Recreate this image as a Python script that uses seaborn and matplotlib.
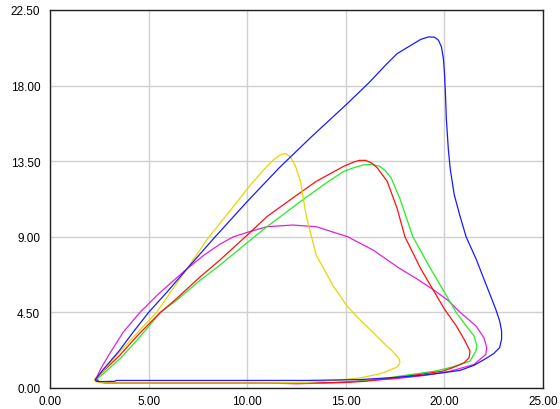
import numpy as np
import pandas as pd
import matplotlib
matplotlib.use("Agg")
import matplotlib.pyplot as plt
import seaborn as sns

# loops traced from bottom-left, up the diagonal, over the peak, back along the bottom
blue_x = [2.30, 2.7, 3.5, 4.2, 5.0, 6.0, 6.95, 8.3, 10.0, 11.66, 13.3, 15.05, 16.2, 17.0, 17.6, 18.3,
          18.8, 19.2, 19.5, 19.7, 19.85, 19.95, 20.0, 20.05, 20.1, 20.2, 20.3, 20.5, 20.8, 21.1,
          21.6, 22.1, 22.6, 22.8, 22.9, 22.9, 22.8, 22.5, 22.1, 21.5, 20.8, 19.9, 18.8, 17.4, 15.7,
          13.0, 10.0, 6.5, 3.35, 3.3, 2.6, 2.35, 2.30]
blue_y = [0.50, 1.1, 2.2, 3.3, 4.5, 5.8, 7.1, 8.9, 11.1, 13.15, 15.0, 16.9, 18.2, 19.2, 19.9, 20.4,
          20.75, 20.9, 20.88, 20.7, 20.3, 19.6, 18.8, 17.6, 16.0, 14.2, 13.0, 11.5, 10.2, 9.0,
          7.7, 6.2, 4.7, 4.0, 3.4, 2.9, 2.4, 2.05, 1.75, 1.35, 1.05, 0.9, 0.75, 0.62, 0.5,
          0.45, 0.45, 0.45, 0.45, 0.4, 0.38, 0.4, 0.5]

red_x = [2.30, 2.7, 3.5, 4.5, 5.6, 6.4, 7.6, 8.6, 10.0, 11.0, 12.3, 13.5, 14.9, 15.4, 15.7, 16.0,
         16.3, 16.6, 17.1, 17.6, 18.0, 18.8, 19.5, 20.0, 20.6, 21.0, 21.3, 21.25, 21.0, 20.4, 19.9,
         19.0, 17.5, 16.0, 15.0, 13.0, 10.0, 6.0, 3.0, 2.5, 2.30]
red_y = [0.55, 1.0, 1.9, 3.2, 4.5, 5.3, 6.6, 7.6, 9.1, 10.2, 11.3, 12.3, 13.2, 13.45, 13.55, 13.55,
         13.4, 13.1, 12.3, 10.7, 9.0, 7.1, 5.7, 4.7, 3.7, 2.9, 2.2, 1.8, 1.5, 1.2, 1.0,
         0.85, 0.6, 0.4, 0.33, 0.3, 0.3, 0.3, 0.3, 0.35, 0.55]

green_x = [2.35, 2.8, 3.6, 4.6, 5.6, 6.4, 7.6, 8.6, 10.0, 11.0, 12.7, 14.0, 14.9, 15.5, 15.9, 16.3,
           16.7, 17.0, 17.3, 17.75, 18.4, 19.3, 20.1, 20.6, 21.1, 21.5, 21.65, 21.6, 21.3, 20.4,
           19.5, 18.0, 16.5, 15.0, 13.0, 10.0, 6.0, 3.0, 2.5, 2.35]
green_y = [0.5, 0.95, 1.8, 3.1, 4.5, 5.2, 6.4, 7.3, 8.65, 9.6, 11.1, 12.2, 12.9, 13.15, 13.28, 13.32,
           13.2, 12.95, 12.5, 11.25, 9.0, 7.1, 5.5, 4.5, 3.7, 3.1, 2.5, 2.2, 1.6, 1.25,
           1.0, 0.75, 0.5, 0.33, 0.28, 0.28, 0.28, 0.28, 0.33, 0.5]

magenta_x = [2.35, 2.6, 3.0, 3.7, 4.56, 5.5, 6.95, 7.8, 8.6, 9.3, 10.1, 11.0, 12.3, 13.5, 15.1, 16.4,
             17.75, 18.6, 19.5, 20.2, 20.8, 21.6, 22.0, 22.15, 22.1, 21.5, 20.3, 19.0, 17.5, 15.5,
             14.0, 12.5, 11.0, 8.0, 5.0, 3.0, 2.5, 2.35]
magenta_y = [0.6, 1.2, 2.0, 3.3, 4.5, 5.6, 7.1, 7.9, 8.55, 9.0, 9.3, 9.6, 9.7, 9.6, 9.0, 8.2,
             7.1, 6.5, 5.8, 5.2, 4.5, 3.7, 3.0, 2.4, 2.0, 1.4, 1.0, 0.75, 0.55, 0.4,
             0.3, 0.25, 0.3, 0.3, 0.3, 0.3, 0.35, 0.6]

yellow_x = [2.25, 2.6, 3.2, 4.2, 5.4, 6.95, 8.0, 9.3, 10.1, 11.0, 11.4, 11.7, 11.95, 12.2, 12.45,
            12.7, 13.0, 13.5, 14.0, 14.35, 15.05, 15.6, 16.3, 16.9, 17.4, 17.7, 17.75, 17.6, 17.1,
            16.7, 15.7, 14.5, 13.0, 11.0, 8.0, 5.0, 3.0, 2.4, 2.25]
yellow_y = [0.45, 0.9, 1.7, 3.0, 4.5, 7.1, 8.9, 10.8, 12.0, 13.2, 13.65, 13.9, 13.95, 13.75, 13.2,
            12.3, 10.2, 7.9, 6.85, 6.1, 4.9, 4.2, 3.4, 2.7, 2.15, 1.75, 1.5, 1.25, 1.0,
            0.83, 0.6, 0.45, 0.33, 0.3, 0.3, 0.3, 0.3, 0.35, 0.45]

x_ticks = [0, 5, 10, 15, 20, 25]
y_ticks = [0, 4.5, 9, 13.5, 18, 22.5]

curves = [
    (magenta_x, magenta_y, "#e020e0"),
    (green_x, green_y, "#22ee22"),
    (red_x, red_y, "#ff1010"),
    (yellow_x, yellow_y, "#e6d800"),
    (blue_x, blue_y, "#1a1aff"),
]

sns.set_theme(style="whitegrid")
plt.rcParams['font.family'] = ['Liberation Sans', 'DejaVu Sans']

fig = plt.figure(figsize=(5.6, 4.1), dpi=100)
ax = fig.add_axes([50 / 560, 21 / 410, 493 / 560, 378 / 410])

for xs, ys, col in curves:
    df = pd.DataFrame({"x": xs, "y": ys})
    sns.lineplot(data=df, x="x", y="y", sort=False, estimator=None, color=col, lw=0.9, ax=ax)

ax.set_xlim(0, 25)
ax.set_ylim(0, 22.5)
ax.set_xticks(x_ticks)
ax.set_yticks(y_ticks)
ax.set_xticklabels([f"{v:.2f}" for v in x_ticks])
ax.set_yticklabels([f"{v:.2f}" for v in y_ticks])
ax.set_xlabel("")
ax.set_ylabel("")
ax.tick_params(length=0, labelsize=8.5, colors="black")
ax.tick_params(axis="y", pad=7)
ax.tick_params(axis="x", pad=5)
ax.grid(True, color="#d0d0d0", lw=1.0)
ax.set_facecolor("white")
for s in ax.spines.values():
    s.set_visible(True)
    s.set_color("#222222")
    s.set_linewidth(1.0)

fig.savefig("out.png", dpi=100)
